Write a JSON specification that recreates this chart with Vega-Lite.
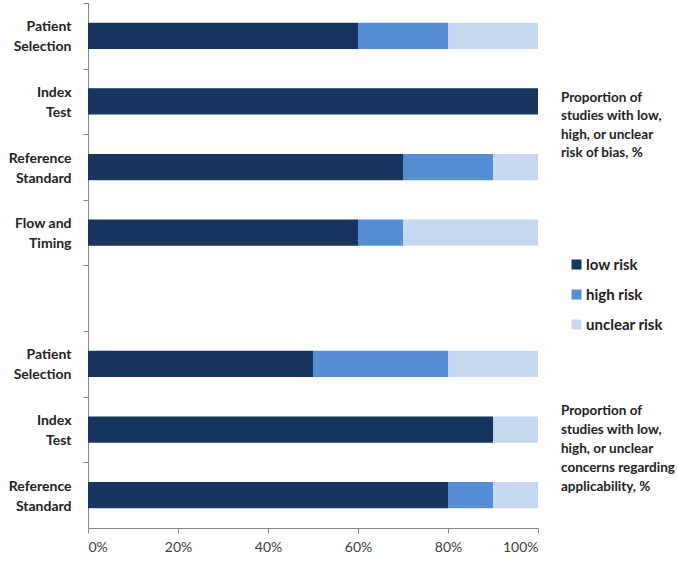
{
  "$schema": "https://vega.github.io/schema/vega-lite/v6.json",
  "width": 450,
  "height": 525,
  "autosize": {"type": "none"},
  "padding": {"left": 88, "top": 3, "right": 140, "bottom": 33},
  "background": "white",
  "config": {"view": {"stroke": null}, "font": "Lato"},
  "datasets": {
    "bars": [
      {"row": "B-Patient|Selection", "risk": "low risk", "k": 1, "pct": 60},
      {"row": "B-Patient|Selection", "risk": "high risk", "k": 2, "pct": 20},
      {"row": "B-Patient|Selection", "risk": "unclear risk", "k": 3, "pct": 20},
      {"row": "B-Index|Test", "risk": "low risk", "k": 1, "pct": 100},
      {"row": "B-Reference|Standard", "risk": "low risk", "k": 1, "pct": 70},
      {"row": "B-Reference|Standard", "risk": "high risk", "k": 2, "pct": 20},
      {"row": "B-Reference|Standard", "risk": "unclear risk", "k": 3, "pct": 10},
      {"row": "B-Flow and|Timing", "risk": "low risk", "k": 1, "pct": 60},
      {"row": "B-Flow and|Timing", "risk": "high risk", "k": 2, "pct": 10},
      {"row": "B-Flow and|Timing", "risk": "unclear risk", "k": 3, "pct": 30},
      {"row": "C-Patient|Selection", "risk": "low risk", "k": 1, "pct": 50},
      {"row": "C-Patient|Selection", "risk": "high risk", "k": 2, "pct": 30},
      {"row": "C-Patient|Selection", "risk": "unclear risk", "k": 3, "pct": 20},
      {"row": "C-Index|Test", "risk": "low risk", "k": 1, "pct": 90},
      {"row": "C-Index|Test", "risk": "unclear risk", "k": 3, "pct": 10},
      {"row": "C-Reference|Standard", "risk": "low risk", "k": 1, "pct": 80},
      {"row": "C-Reference|Standard", "risk": "high risk", "k": 2, "pct": 10},
      {"row": "C-Reference|Standard", "risk": "unclear risk", "k": 3, "pct": 10}
    ],
    "note1": [{"row": "B-Index|Test", "x": 100, "label": "Proportion of|studies with low,|high, or unclear|risk of bias, %"}],
    "note2": [{"row": "C-Index|Test", "x": 100, "label": "Proportion of|studies with low,|high, or unclear|concerns regarding|applicability, %"}]
  },
  "encoding": {
    "y": {
      "field": "row",
      "type": "nominal",
      "sort": null,
      "scale": {
        "domain": ["B-Patient|Selection", "B-Index|Test", "B-Reference|Standard", "B-Flow and|Timing", "gap", "C-Patient|Selection", "C-Index|Test", "C-Reference|Standard"],
        "paddingInner": 0.6,
        "paddingOuter": 0.3
      },
      "axis": {
        "title": null,
        "labelExpr": "datum.label == 'gap' ? '' : split(substring(datum.label, 2), '|')",
        "bandPosition": 0,
        "tickExtra": true,
        "tickOffset": -19.69,
        "labelOffset": 10.7,
        "tickSize": 5,
        "tickColor": "#868686",
        "domainColor": "#868686",
        "labelFontSize": 14,
        "labelFontWeight": "bold",
        "labelColor": "#222222",
        "labelPadding": 12,
        "labelLineHeight": 20,
        "labelAlign": "right",
        "labelBaseline": "middle"
      }
    }
  },
  "layer": [
    {
      "data": {"name": "bars"},
      "mark": {"type": "bar"},
      "encoding": {
        "x": {
          "field": "pct",
          "type": "quantitative",
          "stack": "zero",
          "scale": {"domain": [0, 100], "nice": false},
          "axis": {
            "title": null,
            "values": [0, 20, 40, 60, 80, 100],
            "labelExpr": "datum.value + '%'",
            "grid": false,
            "tickSize": 5,
            "tickColor": "#868686",
            "domainColor": "#868686",
            "labelFontSize": 14,
            "labelColor": "#404040",
            "labelPadding": 7
          }
        },
        "color": {
          "field": "risk",
          "type": "nominal",
          "scale": {"domain": ["low risk", "high risk", "unclear risk"], "range": ["#17365D", "#558ED5", "#C6D9F1"]},
          "legend": {
            "title": null,
            "orient": "none",
            "legendX": 481,
            "legendY": 254,
            "symbolType": "square",
            "symbolSize": 100,
            "symbolStrokeWidth": 0,
            "labelFontSize": 15,
            "labelFontWeight": "bold",
            "labelColor": "#222222",
            "labelOffset": 2,
            "rowPadding": 14
          }
        },
        "order": {"field": "k", "type": "quantitative"}
      }
    },
    {
      "data": {"name": "note1"},
      "mark": {"type": "text", "align": "left", "baseline": "middle", "dx": 23, "dy": -3.5, "fontSize": 13.5, "fontWeight": "bold", "lineHeight": 18.5, "lineBreak": "|", "color": "#222222"},
      "encoding": {
        "x": {"field": "x", "type": "quantitative"},
        "text": {"field": "label"}
      }
    },
    {
      "data": {"name": "note2"},
      "mark": {"type": "text", "align": "left", "baseline": "middle", "dx": 23, "dy": -18.6, "fontSize": 13.5, "fontWeight": "bold", "lineHeight": 19, "lineBreak": "|", "color": "#222222"},
      "encoding": {
        "x": {"field": "x", "type": "quantitative"},
        "text": {"field": "label"}
      }
    }
  ]
}
